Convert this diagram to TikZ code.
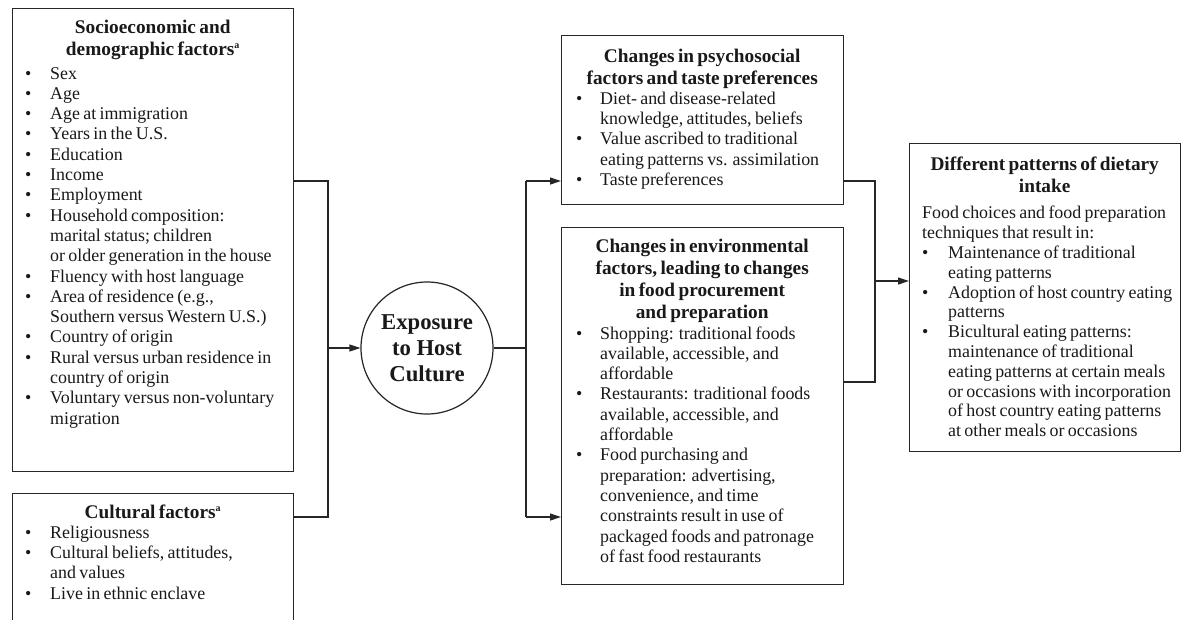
\documentclass[tikz,border=0pt]{standalone}
\usepackage{fontspec}
\setmainfont{Liberation Serif}
\usetikzlibrary{arrows.meta}
\newlength\bi
\newlength\ti
\newcommand\bl[1]{\par\noindent\hangindent=\ti\hangafter=1\makebox[\ti][l]{\hspace{\bi}\textbullet}#1}
\newcommand\ttl{\fontsize{19.3}{22}\selectfont\bfseries}
\newcommand\bdy{\fontsize{17.9}{20.3}\selectfont}
\newcommand\supa{\raisebox{7pt}{\fontsize{10}{10}\selectfont\bfseries a}}
\tikzset{
  box/.style={draw=black!85, line width=1.2pt, inner sep=0pt, anchor=north west},
  txt/.style={inner sep=0pt, anchor=base west, text=black!90},
  conn/.style={draw=black!85, line width=1.2pt},
  arr/.style={conn, -{Triangle[length=11pt,width=7pt]}},
}
\begin{document}
\begin{tikzpicture}[x=1pt,y=-1pt]
\clip (0,0) rectangle (1184,619);
\fill[white] (0,0) rectangle (1184,619);
% boxes
\node[box, minimum width=281pt, minimum height=463pt] (socio) at (12,8) {};
\node[box, minimum width=281pt, minimum height=160pt] (cult) at (12,493) {};
\node[box, minimum width=282pt, minimum height=169pt] (psy) at (561,35) {};
\node[box, minimum width=282pt, minimum height=357pt] (env) at (561,227) {};
\node[box, minimum width=271pt, minimum height=308pt] (diet) at (909,143) {};
\node[draw=black!85, line width=1.2pt, circle, minimum size=132pt, inner sep=0pt, align=center,
      text=black!90, font=\fontsize{22.7}{26}\selectfont\bfseries] (exp) at (427,348) {Exposure\\to Host\\Culture};
% texts
\node[txt, text width=281pt] (sociot) at (12,33) {%
{\centering\ttl Socioeconomic and\\demographic factors\supa\par}%
\bdy\rightskip=-40pt plus 1fil\setlength\bi{13pt}\setlength\ti{38pt}\vspace{3.7pt}%
\bl{Sex}\bl{Age}\bl{Age at immigration}\bl{Years in the U.S.}\bl{Education}\bl{Income}\bl{Employment}%
\bl{Household composition:\newline marital status; children\newline or older generation in the house}%
\bl{Fluency with host language}\bl{Area of residence (e.g.,\newline Southern versus Western U.S.)}%
\bl{Country of origin}\bl{Rural versus urban residence in\newline country of origin}%
\bl{Voluntary versus non-voluntary\newline migration}\par};
\node[txt, text width=281pt] (cultt) at (12,518) {%
{\centering\ttl Cultural factors\supa\par}%
\bdy\rightskip=-40pt plus 1fil\setlength\bi{13pt}\setlength\ti{38pt}%
\bl{Religiousness}\bl{Cultural beliefs, attitudes,\newline and values}\bl{Live in ethnic enclave}\par};
\node[txt, text width=282pt] (psyt) at (561,62) {%
{\centering\ttl Changes in psychosocial\\factors and taste preferences\par}%
\bdy\rightskip=-40pt plus 1fil\setlength\bi{15pt}\setlength\ti{39pt}%
\bl{Diet- and disease-related\newline knowledge, attitudes, beliefs}%
\bl{Value ascribed to traditional\newline eating patterns vs. assimilation}%
\bl{Taste preferences}\par};
\node[txt, text width=282pt] (envt) at (561,252) {%
{\centering\ttl Changes in environmental\\factors, leading to changes\\in food procurement\\and preparation\par}%
\bdy\rightskip=-40pt plus 1fil\setlength\bi{15pt}\setlength\ti{39pt}\vspace{0.7pt}%
\bl{Shopping: traditional foods\newline available, accessible, and\newline affordable}%
\bl{Restaurants: traditional foods\newline available, accessible, and\newline affordable}%
\bl{Food purchasing and\newline preparation: advertising,\newline convenience, and time\newline constraints result in use of\newline packaged foods and patronage\newline of fast food restaurants}\par};
\node[txt, text width=271pt] (diett) at (909,170) {%
{\centering\ttl Different patterns of dietary\\intake\par}%
\fontsize{17.9}{19.8}\selectfont\rightskip=-40pt plus 1fil\setlength\bi{13pt}\setlength\ti{39pt}\vspace{7pt}%
\noindent\hspace*{13pt}Food choices and food preparation\newline\hspace*{13pt}techniques that result in:%
\bl{Maintenance of traditional\newline eating patterns}%
\bl{Adoption of host country eating\newline patterns}%
\bl{Bicultural eating patterns:\newline maintenance of traditional\newline eating patterns at certain meals\newline or occasions with incorporation\newline of host country eating patterns\newline at other meals or occasions}\par};
% connectors
\coordinate (a1) at (328,181);
\coordinate (a2) at (328,517);
\coordinate (b1) at (526,181);
\coordinate (b2) at (526,517);
\coordinate (c1) at (875,181);
\coordinate (c2) at (875,382);
\coordinate (c3) at (875,281);
\draw[conn] (socio.east |- a1) -- (a1) -- (a2) -- (cult.east |- a2);
\draw[arr] (a1 |- exp.west) -- (exp.west);
\draw[conn] (exp.east) -- (exp.east -| b1);
\draw[conn] (b1) -- (b2);
\draw[arr] (b1) -- (psy.west |- b1);
\draw[arr] (b2) -- (env.west |- b2);
\draw[conn] (psy.east |- c1) -- (c1) -- (c2) -- (env.east |- c2);
\draw[arr] (c3) -- (diet.west |- c3);
\end{tikzpicture}
\end{document}
